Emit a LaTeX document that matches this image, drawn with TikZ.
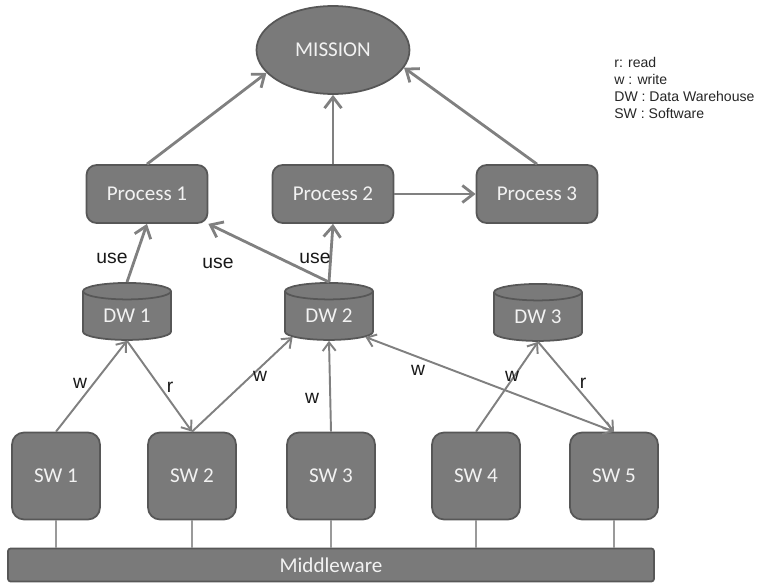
\documentclass[tikz,border=0pt]{standalone}
\usepackage{fontspec}
\setmainfont{Carlito}
\newfontfamily\lblfont{Liberation Sans}
\usetikzlibrary{arrows.meta,positioning,shapes.geometric}
\definecolor{boxfill}{HTML}{7A7A7A}
\definecolor{boxline}{HTML}{575757}
\definecolor{boxtext}{HTML}{F2F2F2}
\definecolor{link}{HTML}{808080}
\definecolor{wiregray}{HTML}{9A9A9A}
\tikzset{
  boxbase/.style={draw=boxline,fill=boxfill,line width=1pt,text=boxtext,
    font=\fontsize{12}{14}\selectfont,inner sep=0pt},
  goal/.style={boxbase,ellipse,minimum width=3.06cm,minimum height=1.76cm},
  proc/.style={boxbase,rounded corners=2mm,minimum width=2.42cm,minimum height=1.16cm},
  store/.style={boxbase,cylinder,shape border rotate=90,aspect=0.35,
    minimum width=1.76cm,minimum height=1.14cm},
  soft/.style={boxbase,rounded corners=2.4mm,minimum width=1.76cm,minimum height=1.74cm},
  bus/.style={boxbase,rounded corners=0.5mm,minimum width=12.92cm,minimum height=0.66cm},
  bigarrow/.style={-{Straight Barb[length=2.2mm,width=3.4mm]},draw=link,line width=1.6pt},
  arrow/.style={-{Straight Barb[length=1.7mm,width=2.6mm]},draw=link,line width=1.1pt},
  twoway/.style={arrow,{Straight Barb[length=1.7mm,width=2.6mm]}-{Straight Barb[length=1.7mm,width=2.6mm]}},
  wire/.style={draw=wiregray,line width=0.6pt},
  labelstyle/.style={font=\lblfont\fontsize{11}{13}\selectfont,text=black!90,inner sep=1pt},
  legend/.style={font=\lblfont\fontsize{8}{9.6}\selectfont,text=black!85,align=left,inner sep=0pt}
}
\begin{document}
\begin{tikzpicture}[x=0.02cm,y=-0.02cm]
  \useasboundingbox (0,0) rectangle (761,585);
  \node[goal] (mission) at (333,50) {MISSION};
  \node[proc] (p1) at (147,194) {Process 1};
  \node[proc] (p2) at (333,194) {Process 2};
  \node[proc] (p3) at (537,194) {Process 3};
  \node[store] (dw1) at (127,316) {DW 1};
  \node[store] (dw2) at (329,316) {DW 2};
  \node[store] (dw3) at (538,317) {DW 3};
  \node[soft] (sw1) at (56,476) {SW 1};
  \node[soft] (sw2) at (192,476) {SW 2};
  \node[soft] (sw3) at (331,476) {SW 3};
  \node[soft] (sw4) at (476,476) {SW 4};
  \node[soft] (sw5) at (614,476) {SW 5};
  \node[bus] (mw) at (331,565) {Middleware};
  \node[legend,anchor=north west] (key) at (614,57)
    {r: read\\w : write\\DW : Data Warehouse\\SW : Software};
  \draw[bigarrow] (p1.north) -- (mission.199);
  \draw[bigarrow] (p2.north) -- (mission.south);
  \draw[bigarrow] (p3.north) -- (mission.346);
  \draw[bigarrow] (p2.east) -- (p3.west);
  \draw[bigarrow] (dw1.north) -- (p1.south);
  \draw[bigarrow] (dw2.north) -- (p1.south east);
  \draw[bigarrow] (dw2.north) -- (p2.south);
  \draw[arrow] (sw1.north) -- (dw1.south);
  \draw[arrow] (dw1.south) -- (sw2.north);
  \draw[arrow] (sw2.north) -- (dw2.210);
  \draw[arrow] (sw3.north) -- (dw2.south);
  \draw[twoway] (dw2.330) -- (sw5.north);
  \draw[arrow] (sw4.north) -- (dw3.south);
  \draw[arrow] (dw3.south) -- (sw5.north);
  \foreach \s in {sw1,sw2,sw3,sw4,sw5}
    \draw[wire] (\s.south) -- (\s.south |- mw.north);
  \node[labelstyle] (use1) at (112,258) {use};
  \node[labelstyle] (use2) at (218,263) {use};
  \node[labelstyle] (use3) at (315,258) {use};
  \node[labelstyle] (w1) at (80,383) {w};
  \node[labelstyle] (r1) at (170,387) {r};
  \node[labelstyle] (w2) at (260,376) {w};
  \node[labelstyle] (w3) at (312,398) {w};
  \node[labelstyle] (w5) at (418,370) {w};
  \node[labelstyle] (w4) at (512,376) {w};
  \node[labelstyle] (r2) at (583,383) {r};
\end{tikzpicture}
\end{document}
